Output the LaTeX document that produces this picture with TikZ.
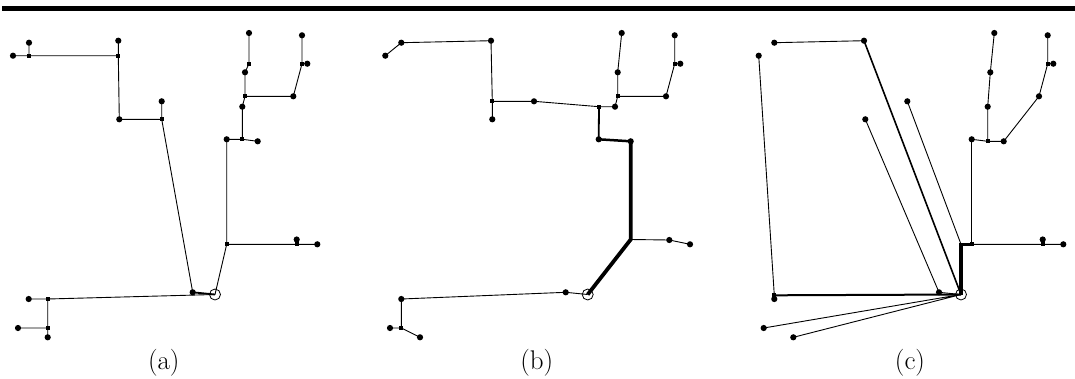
\documentclass[tikz,border=0pt]{standalone}
\usepackage{fontspec}
\begin{document}
\begin{tikzpicture}[x=1pt,y=-1pt,
  dot/.style={circle,fill=black,inner sep=0pt,minimum size=6.2pt},
  sq/.style={rectangle,fill=black,inner sep=0pt,minimum size=4.2pt},
  rootn/.style={circle,draw=black,line width=0.8pt,inner sep=0pt,minimum size=11pt},
  e/.style={line width=0.9pt},
  em/.style={line width=1.8pt},
  eb/.style={line width=2.5pt},
  et/.style={line width=3.8pt},
  lab/.style={font=\fontsize{27}{32}\selectfont}]
\useasboundingbox (0,0) rectangle (1075,378);
\fill (2,6) rectangle (1075,11);

% ---------------- panel (a)
\node[rootn] (ra) at (215,294.5) {};
\node[dot] (a1) at (13,55.7) {};
\node[sq] (a2) at (29,55.7) {};
\node[dot] (a3) at (29,42.7) {};
\node[sq] (a4) at (118.3,55.7) {};
\node[dot] (a5) at (118.3,40.7) {};
\node[dot] (a6) at (119.3,119.3) {};
\node[sq] (a7) at (161.7,119.3) {};
\node[dot] (a8) at (161.7,101.3) {};
\node[dot] (a9) at (192.7,292.3) {};
\node[sq] (a10) at (226.7,244.3) {};
\node[dot] (a11) at (226.7,139.3) {};
\node[sq] (a12) at (242.3,139.3) {};
\node[dot] (a13) at (257.7,141.3) {};
\node[dot] (a14) at (242.3,106.7) {};
\node[sq] (a15) at (245,96.3) {};
\node[dot] (a16) at (293.3,96.3) {};
\node[dot] (a17) at (245,72.3) {};
\node[sq] (a18) at (249,63.7) {};
\node[dot] (a19) at (249,33) {};
\node[sq] (a20) at (302,63.7) {};
\node[dot] (a21) at (307.3,63.7) {};
\node[dot] (a22) at (302,35.3) {};
\node[sq] (a23) at (296.7,244.3) {};
\node[dot] (a24) at (296.7,239.5) {};
\node[dot] (a25) at (317.3,244.3) {};
\node[sq] (a26) at (47.7,299) {};
\node[dot] (a27) at (28.7,299) {};
\node[sq] (a28) at (47.7,328) {};
\node[dot] (a29) at (18,328) {};
\node[dot] (a30) at (47.7,337.3) {};
\draw[e] (a1.center)--(a2.center) (a2.center)--(a3.center) (a2.center)--(a4.center)
  (a4.center)--(a5.center) (a4.center)--(a6.center) (a6.center)--(a7.center)
  (a7.center)--(a8.center) (a7.center)--(a9.center)
  (ra.center)--(a10.center) (a10.center)--(a11.center) (a11.center)--(a12.center)
  (a12.center)--(a13.center) (a12.center)--(a14.center) (a14.center)--(a15.center)
  (a15.center)--(a16.center) (a15.center)--(a17.center) (a17.center)--(a18.center)
  (a18.center)--(a19.center) (a16.center)--(a20.center) (a20.center)--(a21.center)
  (a20.center)--(a22.center) (a10.center)--(a23.center) (a23.center)--(a24.center)
  (a23.center)--(a25.center) (ra.center)--(a26.center) (a26.center)--(a27.center)
  (a26.center)--(a28.center) (a28.center)--(a29.center) (a28.center)--(a30.center);
\draw[em] (a9.center)--(ra.center);
\node[lab] (la) at (163.8,363) {(a)};

% ---------------- panel (b)
\node[rootn] (rb) at (587.7,294.5) {};
\node[dot] (b1) at (385.3,55.7) {};
\node[dot] (b2) at (401.3,42.7) {};
\node[dot] (b3) at (491,40.7) {};
\node[sq] (b4) at (492.3,101.3) {};
\node[dot] (b5) at (492.3,119.3) {};
\node[dot] (b6) at (534,101.3) {};
\node[sq] (b7) at (599,106.7) {};
\node[dot] (b8) at (615,106.7) {};
\node[sq] (b9) at (617.7,96.3) {};
\node[dot] (b10) at (617.7,72.3) {};
\node[dot] (b11) at (621.7,33) {};
\node[dot] (b12) at (666,96.3) {};
\node[sq] (b13) at (674.7,63.7) {};
\node[dot] (b14) at (680.3,63.7) {};
\node[dot] (b15) at (674.7,35.3) {};
\node[dot] (b16) at (598.7,139.3) {};
\node[dot] (b17) at (630.7,141.3) {};
\coordinate (b18) at (630.7,239.5);
\node[dot] (b19) at (669.3,240) {};
\node[dot] (b20) at (690,244.3) {};
\node[dot] (b21) at (565.7,292.3) {};
\node[dot] (b22) at (401.3,299) {};
\node[sq] (b23) at (401.3,328) {};
\node[dot] (b24) at (390,328) {};
\node[dot] (b25) at (420,337.3) {};
\draw[e] (b1.center)--(b2.center) (b2.center)--(b3.center) (b3.center)--(b4.center)
  (b4.center)--(b5.center) (b4.center)--(b6.center) (b6.center)--(b7.center)
  (b7.center)--(b8.center) (b8.center)--(b9.center) (b9.center)--(b10.center)
  (b10.center)--(b11.center) (b9.center)--(b12.center) (b12.center)--(b13.center)
  (b13.center)--(b14.center) (b13.center)--(b15.center)
  (b18)--(b19.center) (b19.center)--(b20.center)
  (rb.center)--(b21.center) (b21.center)--(b22.center) (b22.center)--(b23.center)
  (b23.center)--(b24.center) (b23.center)--(b25.center);
\draw[em] (b7.center)--(b16.center);
\draw[eb] (b16.center)--(b17.center);
\draw[et] (b17.center)--(b18)--(rb.center);
\node[lab] (lb) at (536.7,363) {(b)};

% ---------------- panel (c)
\node[rootn] (rc) at (961,294.5) {};
\node[dot] (c1) at (758.7,55.7) {};
\node[dot] (c2) at (774.3,42.7) {};
\node[dot] (c3) at (864,40.7) {};
\node[dot] (c4) at (865.3,119.3) {};
\node[dot] (c5) at (907.3,101.3) {};
\node[dot] (c6) at (971.7,139.3) {};
\node[sq] (c7) at (987.7,141.3) {};
\node[dot] (c8) at (1003.7,141.3) {};
\node[dot] (c9) at (987.7,106.7) {};
\node[dot] (c10) at (990.3,72.3) {};
\node[dot] (c11) at (994.3,33) {};
\node[dot] (c12) at (1039,96.3) {};
\node[sq] (c13) at (1047.7,63.7) {};
\node[dot] (c14) at (1053.3,63.7) {};
\node[dot] (c15) at (1047.7,35.3) {};
\coordinate (c17) at (961,244.3);
\node[sq] (c16) at (971.7,244.3) {};
\node[sq] (c18) at (1042.7,244.3) {};
\node[dot] (c18b) at (1042.7,239.5) {};
\node[dot] (c19) at (1063.3,244.3) {};
\node[dot] (c20) at (939,292.3) {};
\node[sq] (c21) at (774.3,295.3) {};
\node[dot] (c21b) at (774.3,299) {};
\node[dot] (c22) at (763.7,328) {};
\node[dot] (c23) at (793.3,337.3) {};
\draw[e] (c1.center)--(c21.center) (c2.center)--(c3.center) (c4.center)--(c20.center)
  (c20.center)--(rc.center) (c5.center)--(c17)
  (c6.center)--(c7.center) (c7.center)--(c8.center) (c7.center)--(c9.center)
  (c9.center)--(c10.center) (c10.center)--(c11.center) (c8.center)--(c12.center)
  (c12.center)--(c13.center) (c13.center)--(c14.center) (c13.center)--(c15.center)
  (c16.center)--(c18.center) (c18.center)--(c18b.center) (c18.center)--(c19.center)
  (c22.center)--(rc.center) (c23.center)--(rc.center) (c21.center)--(c21b.center);
\draw[line width=1.6pt] (c3.center)--(rc.center);
\draw[line width=1.5pt] (c6.center)--(c16.center);
\draw[line width=2pt] (c21.center)--(rc.center);
\draw[line width=3.3pt] (rc.center)--(c17)--(c16.center);
\node[lab] (lc) at (910,363) {(c)};
\end{tikzpicture}
\end{document}
